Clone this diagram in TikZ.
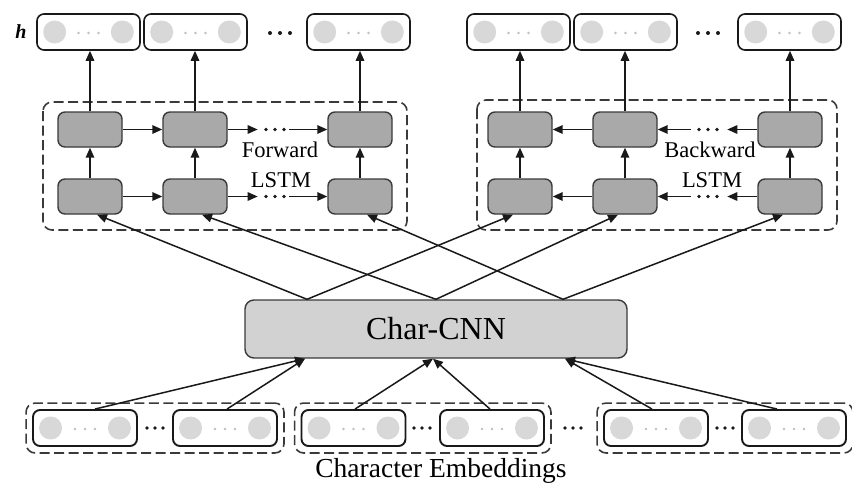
\documentclass[tikz,border=0pt]{standalone}
\usepackage{fontspec}
\setmainfont{Liberation Serif}
\usetikzlibrary{arrows.meta,calc,fit}
\definecolor{cellgray}{HTML}{A9A9A9}
\definecolor{cnngray}{HTML}{D2D2D2}
\definecolor{dotgray}{HTML}{D8D8D8}
\definecolor{edgegray}{HTML}{3A3A3A}
\begin{document}
\begin{tikzpicture}[x=1pt,y=-1pt,
  vecbox/.style={draw=black!90, line width=1.6pt, rounded corners=7pt, fill=white,
    minimum width=103pt, minimum height=36pt, inner sep=0pt},
  cell/.style={draw=edgegray, line width=1.4pt, fill=cellgray, rounded corners=7pt,
    minimum width=64pt, minimum height=35pt, inner sep=0pt},
  cnnbox/.style={draw=edgegray, line width=1.4pt, fill=cnngray, rounded corners=9pt,
    minimum width=382pt, minimum height=58pt, inner sep=0pt, font=\fontsize{32}{32}\selectfont},
  arr/.style={-{Triangle[length=10pt,width=8.5pt]}, line width=1.5pt, draw=black!90},
  grp/.style={draw=edgegray, dash pattern=on 10pt off 4.5pt, line width=1.6pt, rounded corners=9pt},
  lbl/.style={font=\fontsize{22.5}{22.5}\selectfont, inner sep=0pt},
  bdot/.style={fill=black!90},
]
\useasboundingbox (0,0) rectangle (852,488);

% ---------- hidden-state vectors ----------
\node[font=\fontsize{20}{20}\selectfont\bfseries\itshape] (hlabel) at (21,32) {h};
\foreach \n/\x in {hf1/88.5, hf2/195.5, hf3/358.5, hb1/518.5, hb2/625.5, hb3/789.5}
  \node[vecbox] (\n) at (\x,32) {};
\foreach \x in {270,280,290, 698,708,718}
  \fill[bdot] (\x,33) circle (2);

% ---------- LSTM groups ----------
\draw[grp] (43,102) rectangle (407,230);
\draw[grp] (477,100) rectangle (837,230);

\foreach \c/\x in {1/90, 2/195, 3/360} {
  \node[cell] (f\c t) at (\x,129.5) {};
  \node[cell] (f\c b) at (\x,196.5) {};
}
\foreach \c/\x in {1/520, 2/625, 3/790} {
  \node[cell] (b\c t) at (\x,129.5) {};
  \node[cell] (b\c b) at (\x,196.5) {};
}

\node[lbl] (fwd) at (280,150) {Forward};
\node[lbl] (fwdl) at (281,180) {LSTM};
\node[lbl] (bwd) at (710,150) {Backward};
\node[lbl] (bwdl) at (712,180) {LSTM};

% vertical flow inside the LSTMs and up to the hidden states
\foreach \d in {f,b}
  \foreach \c in {1,2,3} {
    \draw[arr] (\d\c b) -- (\d\c t);
    \draw[arr] (\d\c t.north) -- (\d\c t.north |- h\d\c.south);
  }

% recurrent connections
\foreach \r in {t,b} {
  % forward direction
  \draw[arr] (f1\r) -- (f2\r);
  \coordinate (fa\r) at ($(f2\r.east)+(30,0)$);
  \coordinate (fb\r) at ($(f3\r.west)+(-38,0)$);
  \draw[arr] (f2\r.east) -- (fa\r);
  \draw[arr] (fb\r) -- (f3\r.west);
  % backward direction
  \draw[arr] (b2\r) -- (b1\r);
  \coordinate (ba\r) at ($(b3\r.west)+(-30,0)$);
  \coordinate (bb\r) at ($(b2\r.east)+(33,0)$);
  \draw[arr] (b3\r.west) -- (ba\r);
  \draw[arr] (bb\r) -- (b2\r.east);
}
\foreach \y in {129.5,196.5} {
  \foreach \x in {266,275,284, 699,708,717}
    \fill[bdot] (\x,\y) circle (1.8);
}

% ---------- Char-CNN ----------
\node[cnnbox] (cnn) at (436,329) {Char-CNN};
\coordinate (t1) at ($(cnn.north)+(-129,0)$);
\coordinate (t2) at (cnn.north);
\coordinate (t3) at ($(cnn.north)+(127,0)$);
\foreach \c in {1,2,3} {
  \draw[arr] (t\c) -- ($(f\c b.south)+(7,0)$);
  \draw[arr] (t\c) -- ($(b\c b.south)+(-7,0)$);
}

% ---------- character embeddings ----------
\foreach \n/\x in {e1/85, e2/225, e3/353.5, e4/492, e5/656, e6/794}
  \node[vecbox, minimum width=104pt, line width=1.9pt] (\n) at (\x,428) {};
\node[grp, fit=(e1)(e2), inner sep=6pt] (g1) {};
\node[grp, fit=(e3)(e4), inner sep=6pt] (g2) {};
\node[grp, fit=(e5)(e6), inner sep=6pt] (g3) {};
\foreach \x in {147,155,163, 414,422,430, 565,573,581, 717,725,733}
  \fill[bdot] (\x,428) circle (1.9);

\node[font=\fontsize{27.5}{27.5}\selectfont, inner sep=0pt] (emb) at (441,471) {Character Embeddings};

\coordinate (s1) at ($(cnn.south)+(-131,0)$);
\coordinate (s2) at ($(cnn.south)+(-3,0)$);
\coordinate (s3) at ($(cnn.south)+(129,0)$);
\draw[arr] ($(e1.north)+(10,0)$) -- (s1);
\draw[arr] ($(e2.north)+(2,0)$) -- (s1);
\draw[arr] ($(e3.north)+(1.5,0)$) -- (s2);
\draw[arr] ($(e4.north)+(-2,0)$) -- (s2);
\draw[arr] ($(e5.north)+(-4,0)$) -- (s3);
\draw[arr] ($(e6.north)+(-17,0)$) -- (s3);

% ---------- contents of every vector box ----------
\foreach \n in {hf1,hf2,hf3,hb1,hb2,hb3,e1,e2,e3,e4,e5,e6} {
  \fill[dotgray] ($(\n.west)+(18.5,0)$) circle (11.5);
  \fill[dotgray] ($(\n.east)+(-18.5,0)$) circle (11.5);
  \foreach \dx in {-10,0,10}
    \fill[black!25] ($(\n.center)+(\dx,1)$) circle (1.3);
}
\end{tikzpicture}
\end{document}
